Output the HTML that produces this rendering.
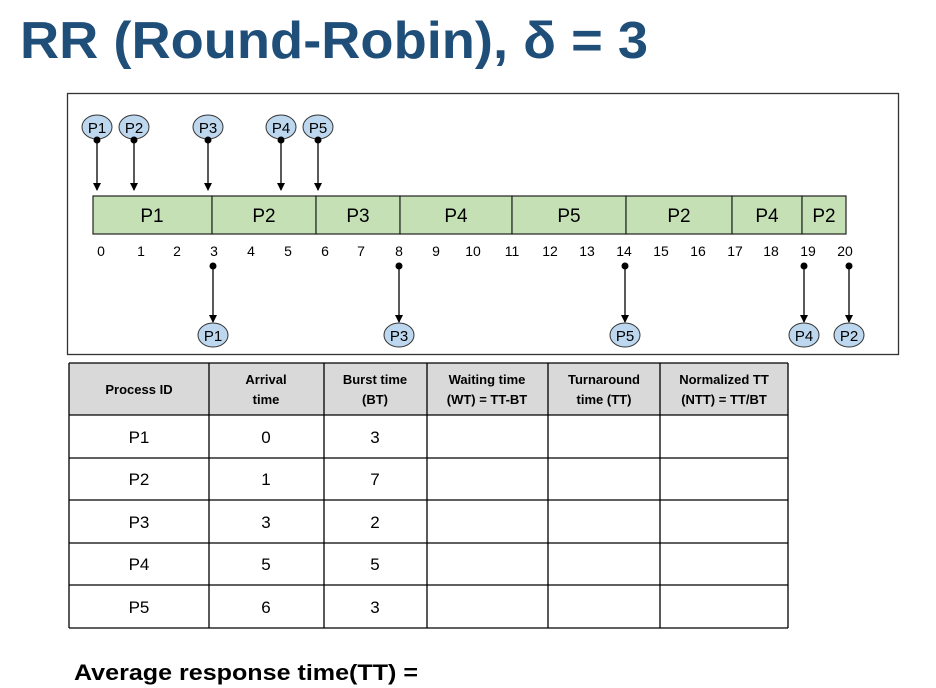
<!DOCTYPE html>
<html><head><meta charset="utf-8"><style>
html,body{margin:0;padding:0;background:#fff;}
svg{display:block;}
.t{font-family:"Liberation Sans",sans-serif;}
</style></head><body>
<svg width="936" height="688" viewBox="0 0 936 688" xmlns="http://www.w3.org/2000/svg">
<defs>
<marker id="ah" markerWidth="8" markerHeight="8" refX="7" refY="4" orient="auto" markerUnits="userSpaceOnUse">
<path d="M0,0 L8,4 L0,8 Z" fill="#000"/>
</marker>
</defs>
<text class="t" x="20" y="58" font-size="52" font-weight="bold" fill="#1f4e79" textLength="628" lengthAdjust="spacingAndGlyphs">RR (Round-Robin), δ = 3</text>

<rect x="67.5" y="93.5" width="831" height="261" fill="#fff" stroke="#333" stroke-width="1.3"/>

<g stroke="#222" stroke-width="1.2" fill="#c5e0b4">
<rect x="93" y="196" width="119" height="38"/>
<rect x="212" y="196" width="104" height="38"/>
<rect x="316" y="196" width="84" height="38"/>
<rect x="400" y="196" width="112" height="38"/>
<rect x="512" y="196" width="114" height="38"/>
<rect x="626" y="196" width="106" height="38"/>
<rect x="732" y="196" width="70" height="38"/>
<rect x="802" y="196" width="44" height="38"/>
</g>
<g class="t" font-size="19" text-anchor="middle" fill="#000">
<text x="152" y="222">P1</text><text x="264" y="222">P2</text><text x="358" y="222">P3</text>
<text x="456" y="222">P4</text><text x="569" y="222">P5</text><text x="679" y="222">P2</text>
<text x="767" y="222">P4</text><text x="824" y="222">P2</text>
</g>
<g class="t" font-size="14" text-anchor="middle" fill="#000">
<text x="101" y="256">0</text><text x="141" y="256">1</text><text x="177" y="256">2</text>
<text x="214" y="256">3</text><text x="251" y="256">4</text><text x="288" y="256">5</text>
<text x="325" y="256">6</text><text x="361" y="256">7</text><text x="399" y="256">8</text>
<text x="436" y="256">9</text><text x="473" y="256">10</text><text x="512" y="256">11</text>
<text x="550" y="256">12</text><text x="587" y="256">13</text><text x="624" y="256">14</text>
<text x="661" y="256">15</text><text x="698" y="256">16</text><text x="735" y="256">17</text>
<text x="771" y="256">18</text><text x="808" y="256">19</text><text x="845" y="256">20</text>
</g>

<g stroke="#000" stroke-width="1.3" fill="#000">
<line x1="97" y1="140" x2="97" y2="190" marker-end="url(#ah)"/>
<line x1="134" y1="140" x2="134" y2="190" marker-end="url(#ah)"/>
<line x1="208" y1="140" x2="208" y2="190" marker-end="url(#ah)"/>
<line x1="281" y1="140" x2="281" y2="190" marker-end="url(#ah)"/>
<line x1="318" y1="140" x2="318" y2="190" marker-end="url(#ah)"/>
<line x1="213" y1="266" x2="213" y2="322" marker-end="url(#ah)"/>
<line x1="399" y1="266" x2="399" y2="322" marker-end="url(#ah)"/>
<line x1="625" y1="266" x2="625" y2="322" marker-end="url(#ah)"/>
<line x1="804" y1="266" x2="804" y2="322" marker-end="url(#ah)"/>
<line x1="849" y1="266" x2="849" y2="322" marker-end="url(#ah)"/>
</g>
<g fill="#bdd7ee" stroke="#333" stroke-width="1">
<ellipse cx="97" cy="127" rx="15" ry="12"/><ellipse cx="134" cy="127" rx="15" ry="12"/>
<ellipse cx="208" cy="127" rx="15" ry="12"/><ellipse cx="281" cy="127" rx="15" ry="12"/>
<ellipse cx="318" cy="127" rx="15" ry="12"/>
<ellipse cx="213" cy="335" rx="15" ry="12"/><ellipse cx="399" cy="335" rx="15" ry="12"/>
<ellipse cx="625" cy="335" rx="15" ry="12"/><ellipse cx="804" cy="335" rx="15" ry="12"/>
<ellipse cx="849" cy="335" rx="15" ry="12"/>
</g>
<g class="t" font-size="15" text-anchor="middle" fill="#000">
<text x="97" y="133">P1</text><text x="134" y="133">P2</text><text x="208" y="133">P3</text>
<text x="281" y="133">P4</text><text x="318" y="133">P5</text>
<text x="213" y="341">P1</text><text x="399" y="341">P3</text><text x="625" y="341">P5</text>
<text x="804" y="341">P4</text><text x="849" y="341">P2</text>
</g>
<g fill="#000">
<circle cx="97" cy="140" r="3.5"/><circle cx="134" cy="140" r="3.5"/><circle cx="208" cy="140" r="3.5"/>
<circle cx="281" cy="140" r="3.5"/><circle cx="318" cy="140" r="3.5"/>
<circle cx="213" cy="266" r="3.5"/><circle cx="399" cy="266" r="3.5"/><circle cx="625" cy="266" r="3.5"/>
<circle cx="804" cy="266" r="3.5"/><circle cx="849" cy="266" r="3.5"/>
</g>

<rect x="69" y="363" width="719" height="52" fill="#d9d9d9"/>
<g stroke="#000" stroke-width="1.3">
<line x1="69" y1="363" x2="788" y2="363"/>
<line x1="69" y1="415" x2="788" y2="415"/>
<line x1="69" y1="458" x2="788" y2="458"/>
<line x1="69" y1="500" x2="788" y2="500"/>
<line x1="69" y1="543" x2="788" y2="543"/>
<line x1="69" y1="585" x2="788" y2="585"/>
<line x1="69" y1="628" x2="788" y2="628"/>
<line x1="69" y1="363" x2="69" y2="628"/>
<line x1="209" y1="363" x2="209" y2="628"/>
<line x1="324" y1="363" x2="324" y2="628"/>
<line x1="427" y1="363" x2="427" y2="628"/>
<line x1="548" y1="363" x2="548" y2="628"/>
<line x1="660" y1="363" x2="660" y2="628"/>
<line x1="788" y1="363" x2="788" y2="628"/>
</g>
<g class="t" font-size="13" font-weight="bold" text-anchor="middle" fill="#000">
<text x="139" y="394">Process ID</text>
<text x="266" y="384">Arrival</text><text x="266" y="404">time</text>
<text x="375" y="384">Burst time</text><text x="375" y="404">(BT)</text>
<text x="487" y="384">Waiting time</text><text x="487" y="404">(WT) = TT-BT</text>
<text x="604" y="384">Turnaround</text><text x="604" y="404">time (TT)</text>
<text x="724" y="384">Normalized TT</text><text x="724" y="404">(NTT) = TT/BT</text>
</g>
<g class="t" font-size="17" text-anchor="middle" fill="#000">
<text x="139" y="443">P1</text><text x="266" y="443">0</text><text x="375" y="443">3</text>
<text x="139" y="485">P2</text><text x="266" y="485">1</text><text x="375" y="485">7</text>
<text x="139" y="528">P3</text><text x="266" y="528">3</text><text x="375" y="528">2</text>
<text x="139" y="570">P4</text><text x="266" y="570">5</text><text x="375" y="570">5</text>
<text x="139" y="613">P5</text><text x="266" y="613">6</text><text x="375" y="613">3</text>
</g>
<text class="t" x="74" y="680" font-size="22" font-weight="bold" fill="#000" textLength="344" lengthAdjust="spacingAndGlyphs">Average response time(TT) =</text>
</svg>
</body></html>
